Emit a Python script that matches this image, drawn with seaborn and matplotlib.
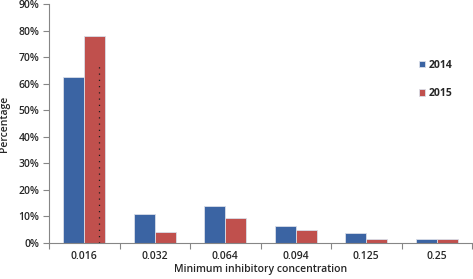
import matplotlib
matplotlib.use("Agg")
import matplotlib.pyplot as plt
import seaborn as sns
import pandas as pd
import numpy as np
from matplotlib.ticker import FixedLocator, FuncFormatter

categories = ["0.016", "0.032", "0.064", "0.094", "0.125", "0.25"]
vals_2014 = [62.5, 10.9, 14.1, 6.4, 3.8, 1.5]
vals_2015 = [78.1, 4.2, 9.5, 5.0, 1.5, 1.5]
years = ["2014", "2015"]
colors = ["#3B64A3", "#C0504D"]

df = pd.DataFrame({
    "MIC": categories * 2,
    "Year": [years[0]] * len(categories) + [years[1]] * len(categories),
    "Percentage": vals_2014 + vals_2015,
})

sns.set_theme(style="white")
plt.rcParams["font.family"] = ["Open Sans", "DejaVu Sans"]

fig = plt.figure(figsize=(4.73, 2.79), dpi=100)
ax = fig.add_axes([49/473, 36/279, 423/473, 239/279])

sns.barplot(data=df, x="MIC", y="Percentage", hue="Year", order=categories,
            hue_order=years, palette=colors, width=0.6, ax=ax,
            edgecolor="#d9dee8", linewidth=0.6, saturation=1)

# dotted artefact line inside the tall red bar
ax.plot([0.21, 0.21], [0, 68], linestyle=(0, (1, 4)), color="#1a1a1a", lw=0.9)

ax.set_xlim(-0.5, len(categories) - 0.5)
ax.set_ylim(0, 90)
ax.set_yticks(np.arange(0, 91, 10))
ax.yaxis.set_major_formatter(FuncFormatter(lambda v, p: f"{int(round(v))}%"))
ax.xaxis.set_minor_locator(FixedLocator(np.arange(-0.5, len(categories), 1.0)))
ax.tick_params(axis="x", which="major", length=0, pad=6, labelsize=7.5)
ax.tick_params(axis="x", which="minor", length=4, width=0.8, color="#868686", direction="out", bottom=True)
ax.tick_params(axis="y", which="major", length=4, width=0.8, color="#868686", direction="out", left=True, pad=3, labelsize=7.5)
for lab in ax.get_xticklabels() + ax.get_yticklabels():
    lab.set_fontweight("semibold")

for s in ["top", "right"]:
    ax.spines[s].set_visible(False)
for s in ["left", "bottom"]:
    ax.spines[s].set_color("#868686")
    ax.spines[s].set_linewidth(0.8)

ax.set_xlabel("Minimum inhibitory concentration", fontsize=7.5, fontweight="semibold", labelpad=1)
ax.set_ylabel("Percentage", fontsize=7.5, fontweight="semibold", labelpad=6)

leg = ax.legend(loc="upper left", bbox_to_anchor=(0.865, 0.785), frameon=False,
                fontsize=7.5, handlelength=0.6, handleheight=0.6, handletextpad=0.3,
                labelspacing=1.7, borderaxespad=0)
for t in leg.get_texts():
    t.set_fontweight("bold")

fig.savefig("out.png", dpi=100)
